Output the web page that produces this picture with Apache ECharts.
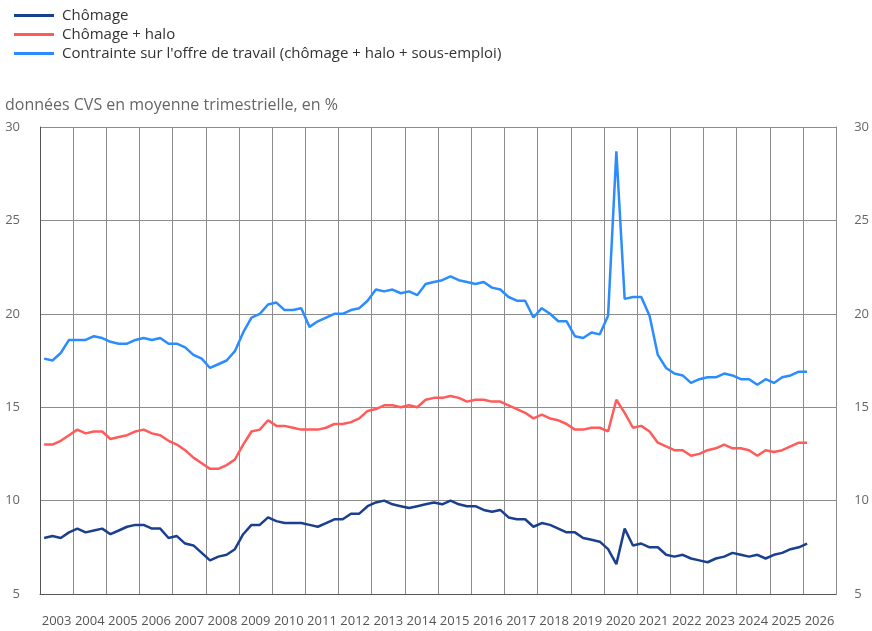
<!DOCTYPE html>
<html>
<head>
<meta charset="utf-8">
<script src="https://cdn.jsdelivr.net/npm/echarts@6/dist/echarts.min.js"></script>
<style>
  html, body { margin: 0; padding: 0; background: #fff; }
  #show { width: 872px; height: 631px; }
</style>
</head>
<body>
<div id="show"></div>
<script>
// années affichées sous l'axe
var years = ['2003','2004','2005','2006','2007','2008','2009','2010','2011','2012','2013','2014',
             '2015','2016','2017','2018','2019','2020','2021','2022','2023','2024','2025','2026'];
var quarters = ['T1','T2','T3','T4'];

// données trimestrielles, 2003 T1 ->
var chomage = [
  8.0, 8.1, 8.0, 8.3, 8.5, 8.3, 8.4, 8.5, 8.2, 8.4, 8.6, 8.7, 8.7, 8.5, 8.5, 8.0,
  8.1, 7.7, 7.6, 7.2, 6.8, 7.0, 7.1, 7.4, 8.2, 8.7, 8.7, 9.1, 8.9, 8.8, 8.8, 8.8,
  8.7, 8.6, 8.8, 9.0, 9.0, 9.3, 9.3, 9.7, 9.9, 10.0, 9.8, 9.7, 9.6, 9.7, 9.8, 9.9,
  9.8, 10.0, 9.8, 9.7, 9.7, 9.5, 9.4, 9.5, 9.1, 9.0, 9.0, 8.6, 8.8, 8.7, 8.5, 8.3,
  8.3, 8.0, 7.9, 7.8, 7.4, 6.6, 8.5, 7.6, 7.7, 7.5, 7.5, 7.1, 7.0, 7.1, 6.9, 6.8,
  6.7, 6.9, 7.0, 7.2, 7.1, 7.0, 7.1, 6.9, 7.1, 7.2, 7.4, 7.5, 7.7
];
var chomageHalo = [
  13.0, 13.0, 13.2, 13.5, 13.8, 13.6, 13.7, 13.7, 13.3, 13.4, 13.5, 13.7, 13.8, 13.6, 13.5, 13.2,
  13.0, 12.7, 12.3, 12.0, 11.7, 11.7, 11.9, 12.2, 13.0, 13.7, 13.8, 14.3, 14.0, 14.0, 13.9, 13.8,
  13.8, 13.8, 13.9, 14.1, 14.1, 14.2, 14.4, 14.8, 14.9, 15.1, 15.1, 15.0, 15.1, 15.0, 15.4, 15.5,
  15.5, 15.6, 15.5, 15.3, 15.4, 15.4, 15.3, 15.3, 15.1, 14.9, 14.7, 14.4, 14.6, 14.4, 14.3, 14.1,
  13.8, 13.8, 13.9, 13.9, 13.7, 15.4, 14.7, 13.9, 14.0, 13.7, 13.1, 12.9, 12.7, 12.7, 12.4, 12.5,
  12.7, 12.8, 13.0, 12.8, 12.8, 12.7, 12.4, 12.7, 12.6, 12.7, 12.9, 13.1, 13.1
];
var contrainte = [
  17.6, 17.5, 17.9, 18.6, 18.6, 18.6, 18.8, 18.7, 18.5, 18.4, 18.4, 18.6, 18.7, 18.6, 18.7, 18.4,
  18.4, 18.2, 17.8, 17.6, 17.1, 17.3, 17.5, 18.0, 19.0, 19.8, 20.0, 20.5, 20.6, 20.2, 20.2, 20.3,
  19.3, 19.6, 19.8, 20.0, 20.0, 20.2, 20.3, 20.7, 21.3, 21.2, 21.3, 21.1, 21.2, 21.0, 21.6, 21.7,
  21.8, 22.0, 21.8, 21.7, 21.6, 21.7, 21.4, 21.3, 20.9, 20.7, 20.7, 19.8, 20.3, 20.0, 19.6, 19.6,
  18.8, 18.7, 19.0, 18.9, 19.9, 28.7, 20.8, 20.9, 20.9, 19.9, 17.8, 17.1, 16.8, 16.7, 16.3, 16.5,
  16.6, 16.6, 16.8, 16.7, 16.5, 16.5, 16.2, 16.5, 16.3, 16.6, 16.7, 16.9, 16.9
];

var categories = [];
years.forEach(function (y) {
    quarters.forEach(function (q) { categories.push(y + ' ' + q); });
});

var myChart = echarts.init(document.getElementById('show'));
var gridColor = '#8c8c8c';
var font = '"Open Sans", sans-serif';

var option = {
    animation: false,
    textStyle: { fontFamily: font },
    title: {
        text: 'données CVS en moyenne trimestrielle, en %',
        left: 0,
        top: 92,
        textStyle: { fontFamily: font, fontSize: 16, fontWeight: 'normal', color: '#666' }
    },
    legend: {
        orient: 'vertical',
        left: 9,
        top: 1,
        itemWidth: 40,
        itemHeight: 3,
        itemGap: 0,
        icon: 'rect',
        textStyle: { fontFamily: font, fontSize: 15, color: '#333', lineHeight: 19, padding: [0, 0, 0, 3] },
        data: ['Chômage', 'Chômage + halo', "Contrainte sur l'offre de travail (chômage + halo + sous-emploi)"]
    },
    grid: { left: 40, right: 34, top: 127, bottom: 37, containLabel: false },
    xAxis: [
        {
            type: 'category',
            data: categories,
            boundaryGap: true,
            axisLine: { show: true, lineStyle: { color: '#555', width: 1 } },
            axisTick: { show: false },
            axisLabel: { show: false },
            splitLine: { show: true, interval: 3, lineStyle: { color: gridColor, width: 1 } }
        },
        {
            type: 'category',
            data: years,
            position: 'bottom',
            boundaryGap: true,
            axisLine: { show: false },
            axisTick: { show: false },
            splitLine: { show: false },
            axisLabel: { margin: 21, fontFamily: font, fontSize: 13, color: '#555', interval: 0 }
        }
    ],
    yAxis: [
        {
            type: 'value',
            min: 5, max: 30, interval: 5,
            axisLine: { show: true, lineStyle: { color: '#555', width: 1 } },
            axisTick: { show: false },
            axisLabel: { margin: 20, fontFamily: font, fontSize: 13, color: '#666' },
            splitLine: { show: true, lineStyle: { color: gridColor, width: 1 } }
        },
        {
            type: 'value',
            position: 'right',
            min: 5, max: 30, interval: 5,
            axisLine: { show: true, lineStyle: { color: gridColor, width: 1 } },
            axisTick: { show: false },
            axisLabel: { margin: 18, fontFamily: font, fontSize: 13, color: '#666' },
            splitLine: { show: false }
        }
    ],
    series: [
        {
            name: 'Chômage',
            type: 'line',
            data: chomage,
            symbol: 'none',
            color: '#1b3f8f',
            lineStyle: { width: 2.5, color: '#1b3f8f' }
        },
        {
            name: 'Chômage + halo',
            type: 'line',
            data: chomageHalo,
            symbol: 'none',
            color: '#ff5b5b',
            lineStyle: { width: 2.5, color: '#ff5b5b' }
        },
        {
            name: "Contrainte sur l'offre de travail (chômage + halo + sous-emploi)",
            type: 'line',
            data: contrainte,
            symbol: 'none',
            color: '#2a8cff',
            lineStyle: { width: 2.5, color: '#2a8cff' }
        }
    ]
};
myChart.setOption(option);
</script>
</body>
</html>
